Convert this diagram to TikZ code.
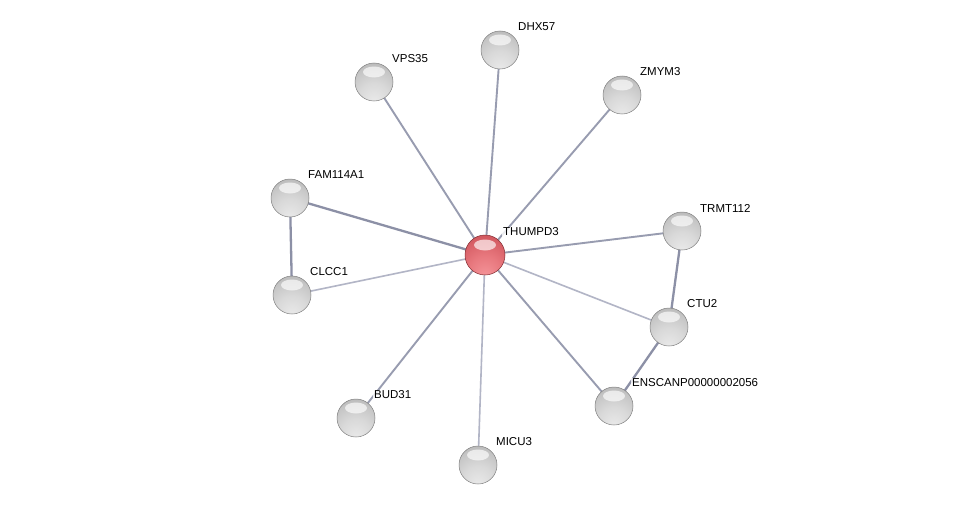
\documentclass[tikz,border=0pt]{standalone}
\usepackage{fontspec}
\setmainfont{Liberation Sans}
\pgfdeclareradialshading{greyball}{\pgfpoint{0bp}{-28bp}}{%
  color(0bp)=(black!8); color(20bp)=(black!15); color(35bp)=(black!23);
  color(48bp)=(black!34); color(60bp)=(black!46); color(80bp)=(black!56)}
\pgfdeclareradialshading{redball}{\pgfpoint{0bp}{-28bp}}{%
  color(0bp)=(rgb,255:red,245;green,150;blue,155); color(20bp)=(rgb,255:red,232;green,120;blue,126);
  color(35bp)=(rgb,255:red,215;green,95;blue,102);
  color(48bp)=(rgb,255:red,195;green,72;blue,80); color(60bp)=(rgb,255:red,172;green,52;blue,60);
  color(80bp)=(rgb,255:red,150;green,40;blue,48)}
\begin{document}
\begin{tikzpicture}[x=1pt,y=-1pt,
  glint/.style={path picture={\fill[white,opacity=0.65] ([yshift=10pt]path picture bounding box.center) ellipse (11pt and 5.5pt);}},
  prot/.style={circle,minimum size=38pt,inner sep=0pt,shading=greyball,draw=black!50,line width=0.5pt,glint},
  hub/.style={circle,minimum size=40pt,inner sep=0pt,shading=redball,draw={rgb,255:red,130;green,45;blue,50},line width=0.5pt,glint},
  lbl/.style={anchor=west,font=\fontsize{11.5pt}{13pt}\selectfont,fill=white,fill opacity=0.8,text opacity=1,inner sep=1pt},
  edge/.style={line width=1.9pt,draw={rgb,255:red,152;green,156;blue,176}},
  edgelight/.style={line width=1.6pt,draw={rgb,255:red,178;green,181;blue,198}},
  edgedark/.style={line width=2.3pt,draw={rgb,255:red,140;green,144;blue,166}}]
\useasboundingbox (0,0) rectangle (976,511);
\fill[white] (0,0) rectangle (976,511);
% coordinates
\coordinate (cT) at (485,255);
\coordinate (cD) at (500,50);
\coordinate (cV) at (374,82);
\coordinate (cZ) at (622,95);
\coordinate (cF) at (290,198);
\coordinate (cC) at (292,295);
\coordinate (cR) at (682,231);
\coordinate (cU) at (669,327);
\coordinate (cE) at (614,406);
\coordinate (cB) at (356,418);
\coordinate (cM) at (478,465);
% edges
\draw[edge] (cT) -- (cD);
\draw[edge] (cT) -- (cV);
\draw[edge] (cT) -- (cZ);
\draw[edgedark] (cT) -- (cF);
\draw[edgelight] (cT) -- (cC);
\draw[edge] (cT) -- (cR);
\draw[edgelight] (cT) -- (cU);
\draw[edge] (cT) -- (cE);
\draw[edge] (cT) -- (cB);
\draw[edgelight] (cT) -- (cM);
\draw[edgedark] (cF) -- (cC);
\draw[edgedark] (cR) -- (cU);
\draw[edgedark] (cU) -- (cE);
% nodes
\node[hub] (T) at (cT) {};
\node[prot] (D) at (cD) {};
\node[prot] (V) at (cV) {};
\node[prot] (Z) at (cZ) {};
\node[prot] (F) at (cF) {};
\node[prot] (C) at (cC) {};
\node[prot] (R) at (cR) {};
\node[prot] (U) at (cU) {};
\node[prot] (E) at (cE) {};
\node[prot] (B) at (cB) {};
\node[prot] (M) at (cM) {};
% labels
\node[lbl] (lT) at ([shift={(17,-23)}]cT) {THUMPD3};
\node[lbl] (lD) at ([shift={(17,-23)}]cD) {DHX57};
\node[lbl] (lV) at ([shift={(17,-23)}]cV) {VPS35};
\node[lbl] (lZ) at ([shift={(17,-23)}]cZ) {ZMYM3};
\node[lbl] (lF) at ([shift={(17,-23)}]cF) {FAM114A1};
\node[lbl] (lC) at ([shift={(17,-23)}]cC) {CLCC1};
\node[lbl] (lR) at ([shift={(17,-23)}]cR) {TRMT112};
\node[lbl] (lU) at ([shift={(17,-23)}]cU) {CTU2};
\node[lbl] (lE) at ([shift={(17,-23)}]cE) {ENSCANP00000002056};
\node[lbl] (lB) at ([shift={(17,-23)}]cB) {BUD31};
\node[lbl] (lM) at ([shift={(17,-23)}]cM) {MICU3};
\end{tikzpicture}
\end{document}
